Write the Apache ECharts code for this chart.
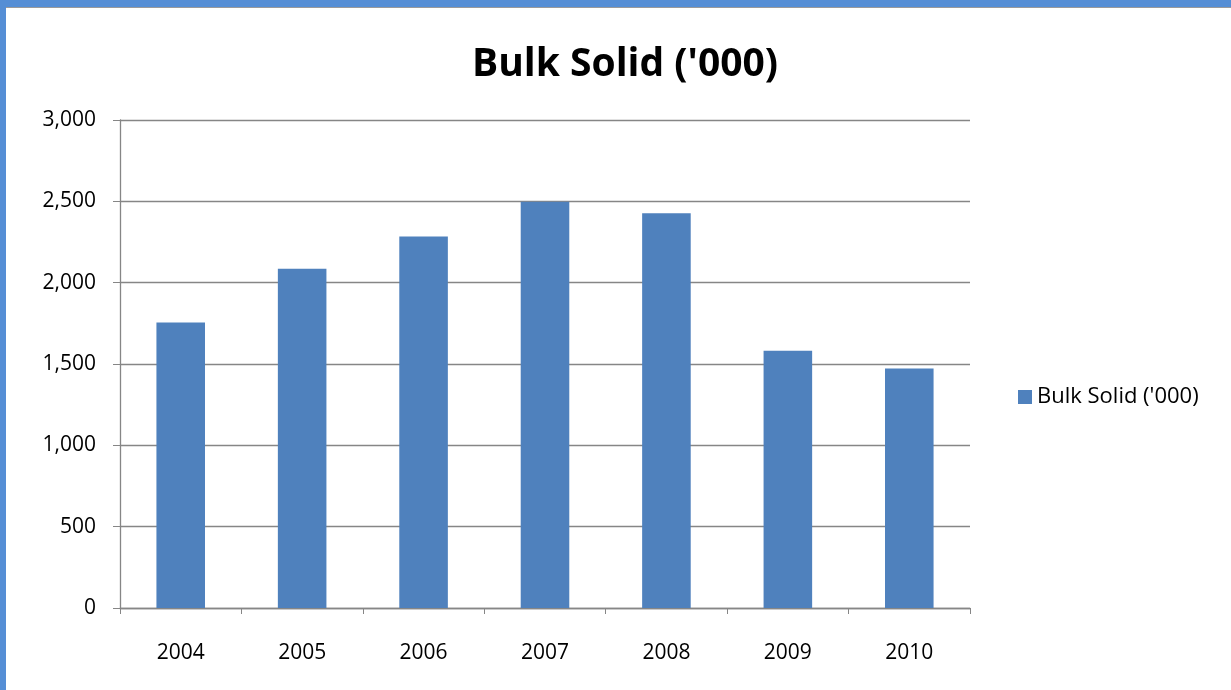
<!DOCTYPE html>
<html>
<head>
<meta charset="utf-8">
<script src="https://cdn.jsdelivr.net/npm/echarts@6/dist/echarts.min.js"></script>
<style>
  html, body { margin: 0; padding: 0; background: #558ed5; }
  .frame {
    position: absolute; left: 6px; top: 7px; width: 1225px; height: 683px;
    background: #fff; border-top: 1px solid #9a9a9a; box-sizing: border-box;
  }
  #chart { position: absolute; left: -6px; top: -8px; width: 1231px; height: 690px; }
</style>
</head>
<body>
<div class="frame"><div id="chart"></div></div>
<script>
  // data
  const years = ["2004", "2005", "2006", "2007", "2008", "2009", "2010"];
  const bulkSolid = [1755, 2086, 2284, 2498, 2426, 1581, 1473];
  const seriesName = "Bulk Solid ('000)";

  const font = "'Open Sans', 'Noto Sans', sans-serif";
  const chart = echarts.init(document.getElementById("chart"));
  chart.setOption({
    animation: false,
    title: {
      text: seriesName,
      left: 620,
      textAlign: "center",
      top: 40,
      textStyle: { fontFamily: font, fontSize: 39, fontWeight: "bold", color: "#000" }
    },
    legend: {
      data: [seriesName],
      left: 1013,
      top: 381,
      icon: "rect",
      itemWidth: 14,
      itemHeight: 14,
      itemGap: 7,
      textStyle: { fontFamily: font, fontSize: 22, color: "#000" }
    },
    grid: { left: 120, right: 261, top: 120, bottom: 82 },
    xAxis: {
      type: "category",
      data: years,
      axisLine: { lineStyle: { color: "#868686", width: 1.3 } },
      axisTick: { show: true, length: 6, lineStyle: { color: "#868686" } },
      axisLabel: { fontFamily: font, fontSize: 21, color: "#000", margin: 35 }
    },
    yAxis: {
      type: "value",
      min: 0,
      max: 3000,
      interval: 500,
      axisLine: { show: true, lineStyle: { color: "#868686", width: 1.3 } },
      axisTick: { show: true, length: 7, lineStyle: { color: "#868686" } },
      axisLabel: {
        fontFamily: font, fontSize: 21, color: "#000", margin: 24,
        formatter: v => v.toLocaleString("en-US")
      },
      splitLine: { lineStyle: { color: "#868686", width: 1.3 } }
    },
    series: [{
      name: seriesName,
      type: "bar",
      data: bulkSolid,
      barWidth: "40%",
      itemStyle: { color: "#4f81bd" }
    }]
  });
</script>
</body>
</html>
